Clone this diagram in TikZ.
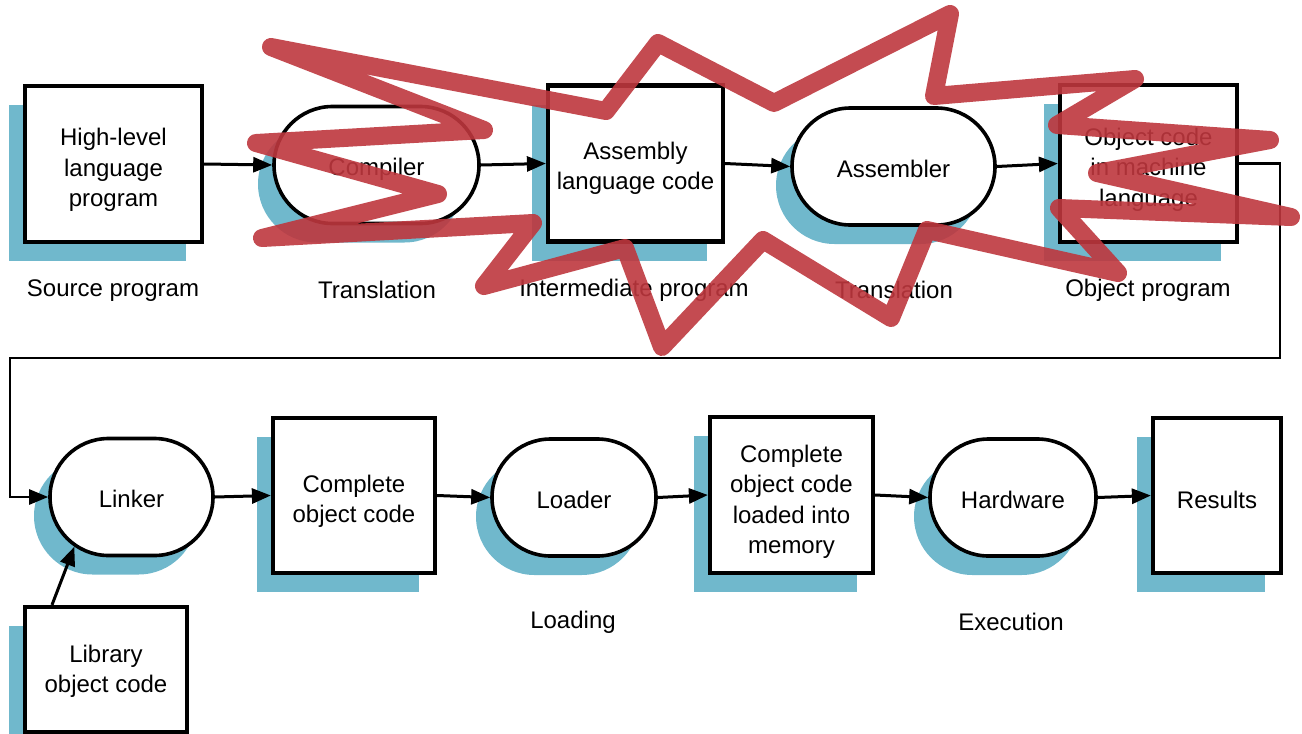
\documentclass[tikz,border=0pt]{standalone}
\usepackage{fontspec}
\setmainfont{Liberation Sans}
\usetikzlibrary{arrows.meta,shapes.misc,shadows}
\definecolor{shade}{RGB}{112,184,204}
\definecolor{strike}{RGB}{190,55,62}
\begin{document}
\begin{tikzpicture}[x=1pt,y=-1pt,
  every node/.style={font=\fontsize{24}{30.5}\selectfont},
  base/.style={draw=black, fill=white, inner sep=0pt,
    drop shadow={shadow xshift=-16pt, shadow yshift=-19pt, fill=shade, opacity=1}},
  box/.style 2 args={base, rectangle, line width=4.2pt, minimum width=#1, minimum height=#2},
  pill/.style={base, rounded rectangle, line width=3.6pt, minimum width=#1, minimum height=117pt},
  txt/.style={inner sep=0pt, align=center},
  arr/.style={line width=3pt, -{Triangle[length=19pt,width=15pt]}},
  caption/.style={inner sep=0pt}
]
\useasboundingbox (0,0) rectangle (1302,734);

% top row: translation chain
\node[box={177pt}{156pt}] (hll) at (113.5,164) {};
\node[pill={205pt}] (comp) at (376.5,165) {};
\node[box={175pt}{156pt}] (asmc) at (635.5,163.5) {};
\node[pill={203pt}] (asmb) at (893.5,166.5) {};
\node[box={177pt}{157pt}] (obj) at (1148.5,163.5) {};

\node[txt] (hll-t) at ([yshift=-6pt]hll.center) {High-level\\language\\program};
\node[txt] (comp-t) at ([yshift=-4pt]comp.center) {Compiler};
\node[txt] (asmc-t) at ([yshift=-5pt]asmc.center) {Assembly\\language code};
\node[txt] (asmb-t) at ([yshift=-2pt]asmb.center) {Assembler};
\node[txt] (obj-t) at ([yshift=-6pt]obj.center) {Object code\\in machine\\language};

\node[caption] (c1) at (113,291) {Source program};
\node[caption] (c2) at (377,290) {Translation};
\node[caption] (c3) at (634,290) {Intermediate program};
\node[caption] (c4) at (894,290) {Translation};
\node[caption] (c5) at (1148,290) {Object program};

% bottom row: linking, loading, execution
\node[pill={163pt}] (linker) at (131.5,497) {};
\node[box={162pt}{155pt}] (full) at (354,495.5) {};
\node[pill={164pt}] (loader) at (574,497.5) {};
\node[box={163pt}{156pt}] (mem) at (791.5,495) {};
\node[pill={166pt}] (hw) at (1013,497.5) {};
\node[box={128pt}{155pt}] (res) at (1217,495.5) {};
\node[box={162pt}{125pt}] (lib) at (106,669.5) {};

\node[txt] (linker-t) at ([yshift=-2pt]linker.center) {Linker};
\node[txt] (full-t) at ([yshift=-6pt]full.center) {Complete\\object code};
\node[txt] (loader-t) at ([yshift=-2pt]loader.center) {Loader};
\node[txt] (mem-t) at ([yshift=-7pt]mem.center) {Complete\\object code\\loaded into\\memory};
\node[txt] (hw-t) at ([yshift=-2pt]hw.center) {Hardware};
\node[txt] (res-t) at ([yshift=-4pt]res.center) {Results};
\node[txt] (lib-t) at ([yshift=-2pt]lib.center) {Library\\object code};

\node[caption] (c6) at (573,622) {Loading};
\node[caption] (c7) at (1011,622) {Execution};

% connectors
\draw[arr] (hll.east) -- (comp.west);
\draw[arr] (comp.east) -- (asmc.west);
\draw[arr] (asmc.east) -- (asmb.west);
\draw[arr] (asmb.east) -- (obj.west);
\coordinate (turnR) at (1280,358);
\coordinate (turnL) at (10,358);
\draw[arr, line width=2.5pt] (obj.east) -| (turnR) -- (turnL) |- (linker.west);
\draw[arr] (linker.east) -- (full.west);
\draw[arr] (full.east) -- (loader.west);
\draw[arr] (loader.east) -- (mem.west);
\draw[arr] (mem.east) -- (hw.west);
\draw[arr] (hw.east) -- (res.west);
\draw[arr] ([xshift=-54pt]lib.north) -- (linker.221);

% red strike-out over the top row
\draw[strike, line width=18pt, line join=round, line cap=round, opacity=0.9]
  (271,47) -- (606,111) -- (658,43) -- (774,103) -- (950,14) -- (934,96)
  -- (1135,79) -- (1057,125) -- (1270,140) -- (1097,173) -- (1291,217)
  -- (1059,208) -- (1118,273) -- (927,230) -- (891,318) -- (763,240)
  -- (662,347) -- (625,248) -- (484,286) -- (533,223) -- (262,238)
  -- (438,194) -- (256,143) -- (484,130) -- cycle;
\end{tikzpicture}
\end{document}
